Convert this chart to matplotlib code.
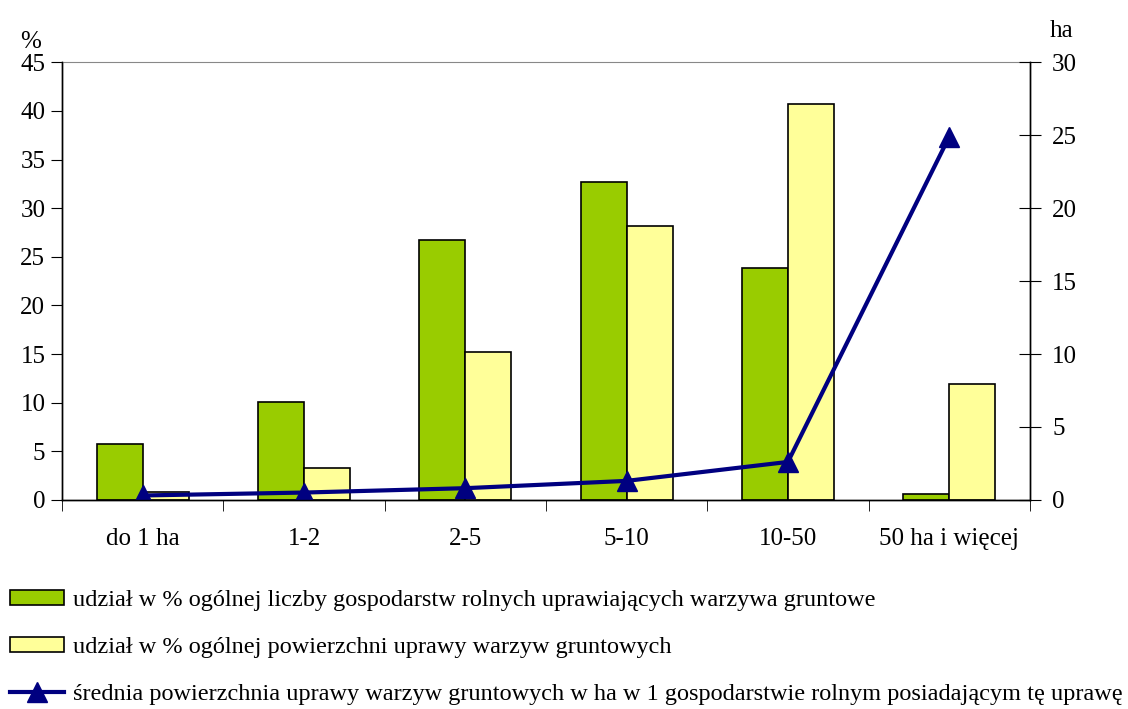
import numpy as np
import matplotlib
matplotlib.use('Agg')
import matplotlib.pyplot as plt

plt.rcParams['font.family'] = ['Liberation Serif', 'DejaVu Serif']

categories = ['do 1 ha', '1-2', '2-5', '5-10', '10-50', '50 ha i więcej']
share_farms = [5.75, 10.1, 26.7, 32.7, 23.8, 0.6]
share_area = [0.8, 3.3, 15.2, 28.2, 40.7, 11.9]
avg_area = [0.3, 0.5, 0.8, 1.3, 2.6, 24.9]

label_farms = 'udział w % ogólnej liczby gospodarstw rolnych uprawiających warzywa gruntowe'
label_area = 'udział w % ogólnej powierzchni uprawy warzyw gruntowych'
label_avg = 'średnia powierzchnia uprawy warzyw gruntowych w ha w 1 gospodarstwie rolnym posiadającym tę uprawę'

fig = plt.figure(figsize=(11.28, 7.09), dpi=100)
ax = fig.add_axes([0.055, 0.295, 0.858, 0.617])
ax2 = ax.twinx()

x = np.arange(len(categories))
w = 0.285
b1 = ax.bar(x - w / 2, share_farms, w, color='#99CC00', edgecolor='black', linewidth=1.2,
            label=label_farms)
b2 = ax.bar(x + w / 2, share_area, w, color='#FFFF99', edgecolor='black', linewidth=1.2,
            label=label_area)
ln, = ax2.plot(x, avg_area, color='#000080', lw=3, marker='^', markersize=15,
               label=label_avg)

ax.set_xlim(-0.5, len(categories) - 0.5)
ax.set_ylim(0, 45)
ax.set_yticks(np.arange(0, 46, 5))
ax2.set_ylim(0, 30)
ax2.set_yticks(np.arange(0, 31, 5))

ax.set_xticks(x)
ax.set_xticklabels(categories)
ax.set_xticks(np.arange(-0.5, len(categories)), minor=True)
ax.tick_params(axis='x', which='major', length=0, pad=20, labelsize=18)
ax.tick_params(axis='x', which='minor', length=8, direction='out')
ax.tick_params(axis='y', length=8, direction='out', labelsize=18, pad=4)
ax2.tick_params(axis='y', length=16, direction='inout', labelsize=18, pad=8)

for a in (ax, ax2):
    for s in ('left', 'right', 'bottom'):
        a.spines[s].set_linewidth(1.0)
ax.spines['top'].set_color('#888888')
ax2.spines['top'].set_visible(False)

fig.text(0.018, 0.932, '%', fontsize=18)
fig.text(0.931, 0.948, 'ha', fontsize=18)

fig.legend(handles=[b1, b2, ln], loc='lower left', bbox_to_anchor=(0.009, 0.006),
           borderaxespad=0, borderpad=0,
           frameon=False, fontsize=17.5, labelspacing=1.05, handlelength=2.2,
           handletextpad=0.4, handleheight=0.6)

fig.savefig('out.png', dpi=100)
